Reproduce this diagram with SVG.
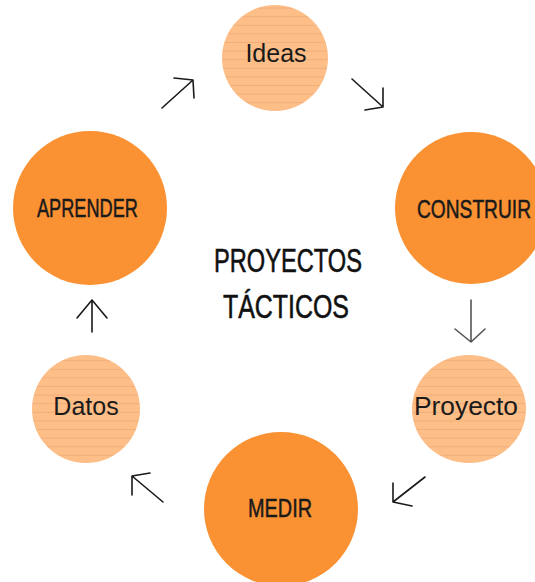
<svg xmlns="http://www.w3.org/2000/svg" width="535" height="582" viewBox="0 0 535 582">
<defs>
<pattern id="stripes" patternUnits="userSpaceOnUse" width="10" height="8.6">
<rect width="10" height="8.6" fill="#FDBE88"/>
<rect y="7.6" width="10" height="1" fill="#F3AE7A"/>
</pattern>
</defs>
<style>
.big{fill:#FA9133}
.small{fill:url(#stripes)}
.lbl{font-family:"Liberation Sans",Arial,sans-serif;font-size:25px;fill:#1a1a1a;text-anchor:middle}
.cap{font-family:"Liberation Sans",Arial,sans-serif;font-size:25px;fill:#1a1a1a;stroke:#1a1a1a;stroke-width:0.5}
.title{font-family:"Liberation Sans",Arial,sans-serif;font-size:34px;fill:#111;stroke:#111;stroke-width:0.6}
.arr{fill:none;stroke:#1a1a1a;stroke-width:1.6;stroke-linecap:round;stroke-linejoin:round}
</style>
<rect width="535" height="582" fill="#ffffff"/>
<g id="ideas">
<circle class="small" cx="275" cy="58" r="53"/>
<text class="lbl" x="276" y="62">Ideas</text>
</g>
<g id="construir">
<circle class="big" cx="471" cy="208" r="76"/>
<text class="cap" x="417" y="218" textLength="114" lengthAdjust="spacingAndGlyphs">CONSTRUIR</text>
</g>
<g id="proyecto">
<ellipse class="small" cx="469" cy="409" rx="57" ry="54"/>
<text class="lbl" x="466" y="415" textLength="104" lengthAdjust="spacingAndGlyphs">Proyecto</text>
</g>
<g id="medir">
<circle class="big" cx="281" cy="509" r="77"/>
<text class="cap" x="248" y="517" textLength="64" lengthAdjust="spacingAndGlyphs">MEDIR</text>
</g>
<g id="datos">
<circle class="small" cx="86" cy="409" r="54"/>
<text class="lbl" x="86" y="415">Datos</text>
</g>
<g id="aprender">
<circle class="big" cx="90" cy="208" r="77"/>
<text class="cap" x="37" y="217" textLength="101" lengthAdjust="spacingAndGlyphs">APRENDER</text>
</g>
<g id="title">
<text class="title" x="214" y="272" textLength="148" lengthAdjust="spacingAndGlyphs">PROYECTOS</text>
<text class="title" x="223" y="318" textLength="126" lengthAdjust="spacingAndGlyphs">TÁCTICOS</text>
</g>
<g id="connectors">
<path class="arr" d="M162 108 L193 80 M174 78 L193 80 L194 98"/>
<path class="arr" d="M352 79 L383 107 M365 110 L383 107 L383 88"/>
<path class="arr" d="M471 300 L471 342 M455 329 L471 342 L485 329" style="stroke:#555"/>
<path class="arr" d="M425 477 L393 502 M393 483 L393 502 L412 506"/>
<path class="arr" d="M163 502 L132 476 M150 473 L132 476 L132 495"/>
<path class="arr" d="M92 332 L92 300 M77 318 L92 300 L107 318"/>
</g>
</svg>
